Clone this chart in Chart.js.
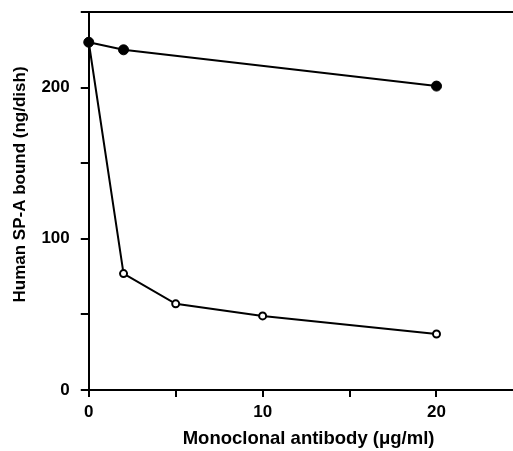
<!DOCTYPE html>
<html>
<head>
<meta charset="utf-8">
<script src="https://cdn.jsdelivr.net/npm/chart.js@4/dist/chart.umd.min.js"></script>
<style>
  html, body { margin: 0; padding: 0; background: #fff; }
  #wrap { width: 513px; height: 451px; }
</style>
</head>
<body>
<div id="wrap"><canvas id="myChart" width="513" height="451"></canvas></div>
<script>
// antibody concentrations (ug/ml) and SP-A bound (ng/dish)
const filledX = [0, 2, 20];
const filledY = [230, 225, 201];
const openX = [0, 2, 5, 10, 20];
const openY = [230, 77, 57, 49, 37];
const xTickLabels = [0, 10, 20];
const yTickLabels = [0, 100, 200];

const toPoints = (xs, ys) => xs.map((x, i) => ({ x: x, y: ys[i] }));

// top frame line
const topLine = {
  id: 'topLine',
  afterDraw(chart) {
    const { ctx, chartArea } = chart;
    ctx.save();
    ctx.strokeStyle = '#000';
    ctx.lineWidth = 2;
    ctx.beginPath();
    ctx.moveTo(chartArea.left, chartArea.top);
    ctx.lineTo(chart.width, chartArea.top);
    ctx.stroke();
    ctx.restore();
  }
};

const tickFont = { family: 'Liberation Sans, Arial, sans-serif', size: 17, weight: 'bold' };
const xTitleFont = { family: 'Liberation Sans, Arial, sans-serif', size: 18.5, weight: 'bold' };
const yTitleFont = { family: 'Liberation Sans, Arial, sans-serif', size: 17, weight: 'bold' };

new Chart(document.getElementById('myChart').getContext('2d'), {
  type: 'line',
  data: {
    datasets: [
      {
        label: 'filled',
        data: toPoints(filledX, filledY),
        borderColor: '#000',
        borderWidth: 2,
        pointBackgroundColor: '#000',
        pointBorderColor: '#000',
        pointRadius: 5,
        pointBorderWidth: 1,
        tension: 0,
        clip: false
      },
      {
        label: 'open',
        data: toPoints(openX, openY),
        borderColor: '#000',
        borderWidth: 2,
        pointBackgroundColor: '#fff',
        pointBorderColor: '#000',
        pointRadius: 3.5,
        pointBorderWidth: 2,
        tension: 0,
        clip: false
      }
    ]
  },
  options: {
    responsive: false,
    animation: false,
    layout: { autoPadding: false, padding: { top: 12, right: 0, left: 10, bottom: 1.4 } },
    plugins: { legend: { display: false }, tooltip: { enabled: false } },
    scales: {
      x: {
        type: 'linear',
        min: 0,
        max: 24.4,
        border: { display: true, color: '#000', width: 2 },
        grid: { drawOnChartArea: false, drawTicks: true, tickLength: 7, color: '#000', lineWidth: 2 },
        ticks: {
          stepSize: 5,
          includeBounds: false,
          color: '#000',
          font: tickFont,
          padding: 5,
          maxRotation: 0,
          callback: v => xTickLabels.includes(v) ? String(v) : ''
        },
        title: {
          display: true,
          text: '   Monoclonal antibody (\u03BCg/ml)',
          color: '#000',
          font: xTitleFont,
          padding: { top: 0, bottom: 0 }
        },
        afterFit(scale) {
          scale.paddingLeft = 0;
          scale.paddingRight = 0;
        }
      },
      y: {
        type: 'linear',
        min: 0,
        max: 250,
        border: { display: true, color: '#000', width: 2 },
        grid: { drawOnChartArea: false, drawTicks: true, tickLength: 8, color: '#000', lineWidth: 2 },
        ticks: {
          stepSize: 50,
          color: '#000',
          font: tickFont,
          padding: 11,
          callback: v => yTickLabels.includes(v) ? String(v) : ''
        },
        title: {
          display: true,
          text: '       Human SP-A bound (ng/dish)',
          color: '#000',
          font: yTitleFont,
          padding: { top: 0, bottom: 0 }
        },
        afterFit(scale) {
          scale.paddingTop = 0;
          scale.paddingBottom = 0;
        }
      }
    }
  },
  plugins: [topLine]
});
</script>
</body>
</html>
